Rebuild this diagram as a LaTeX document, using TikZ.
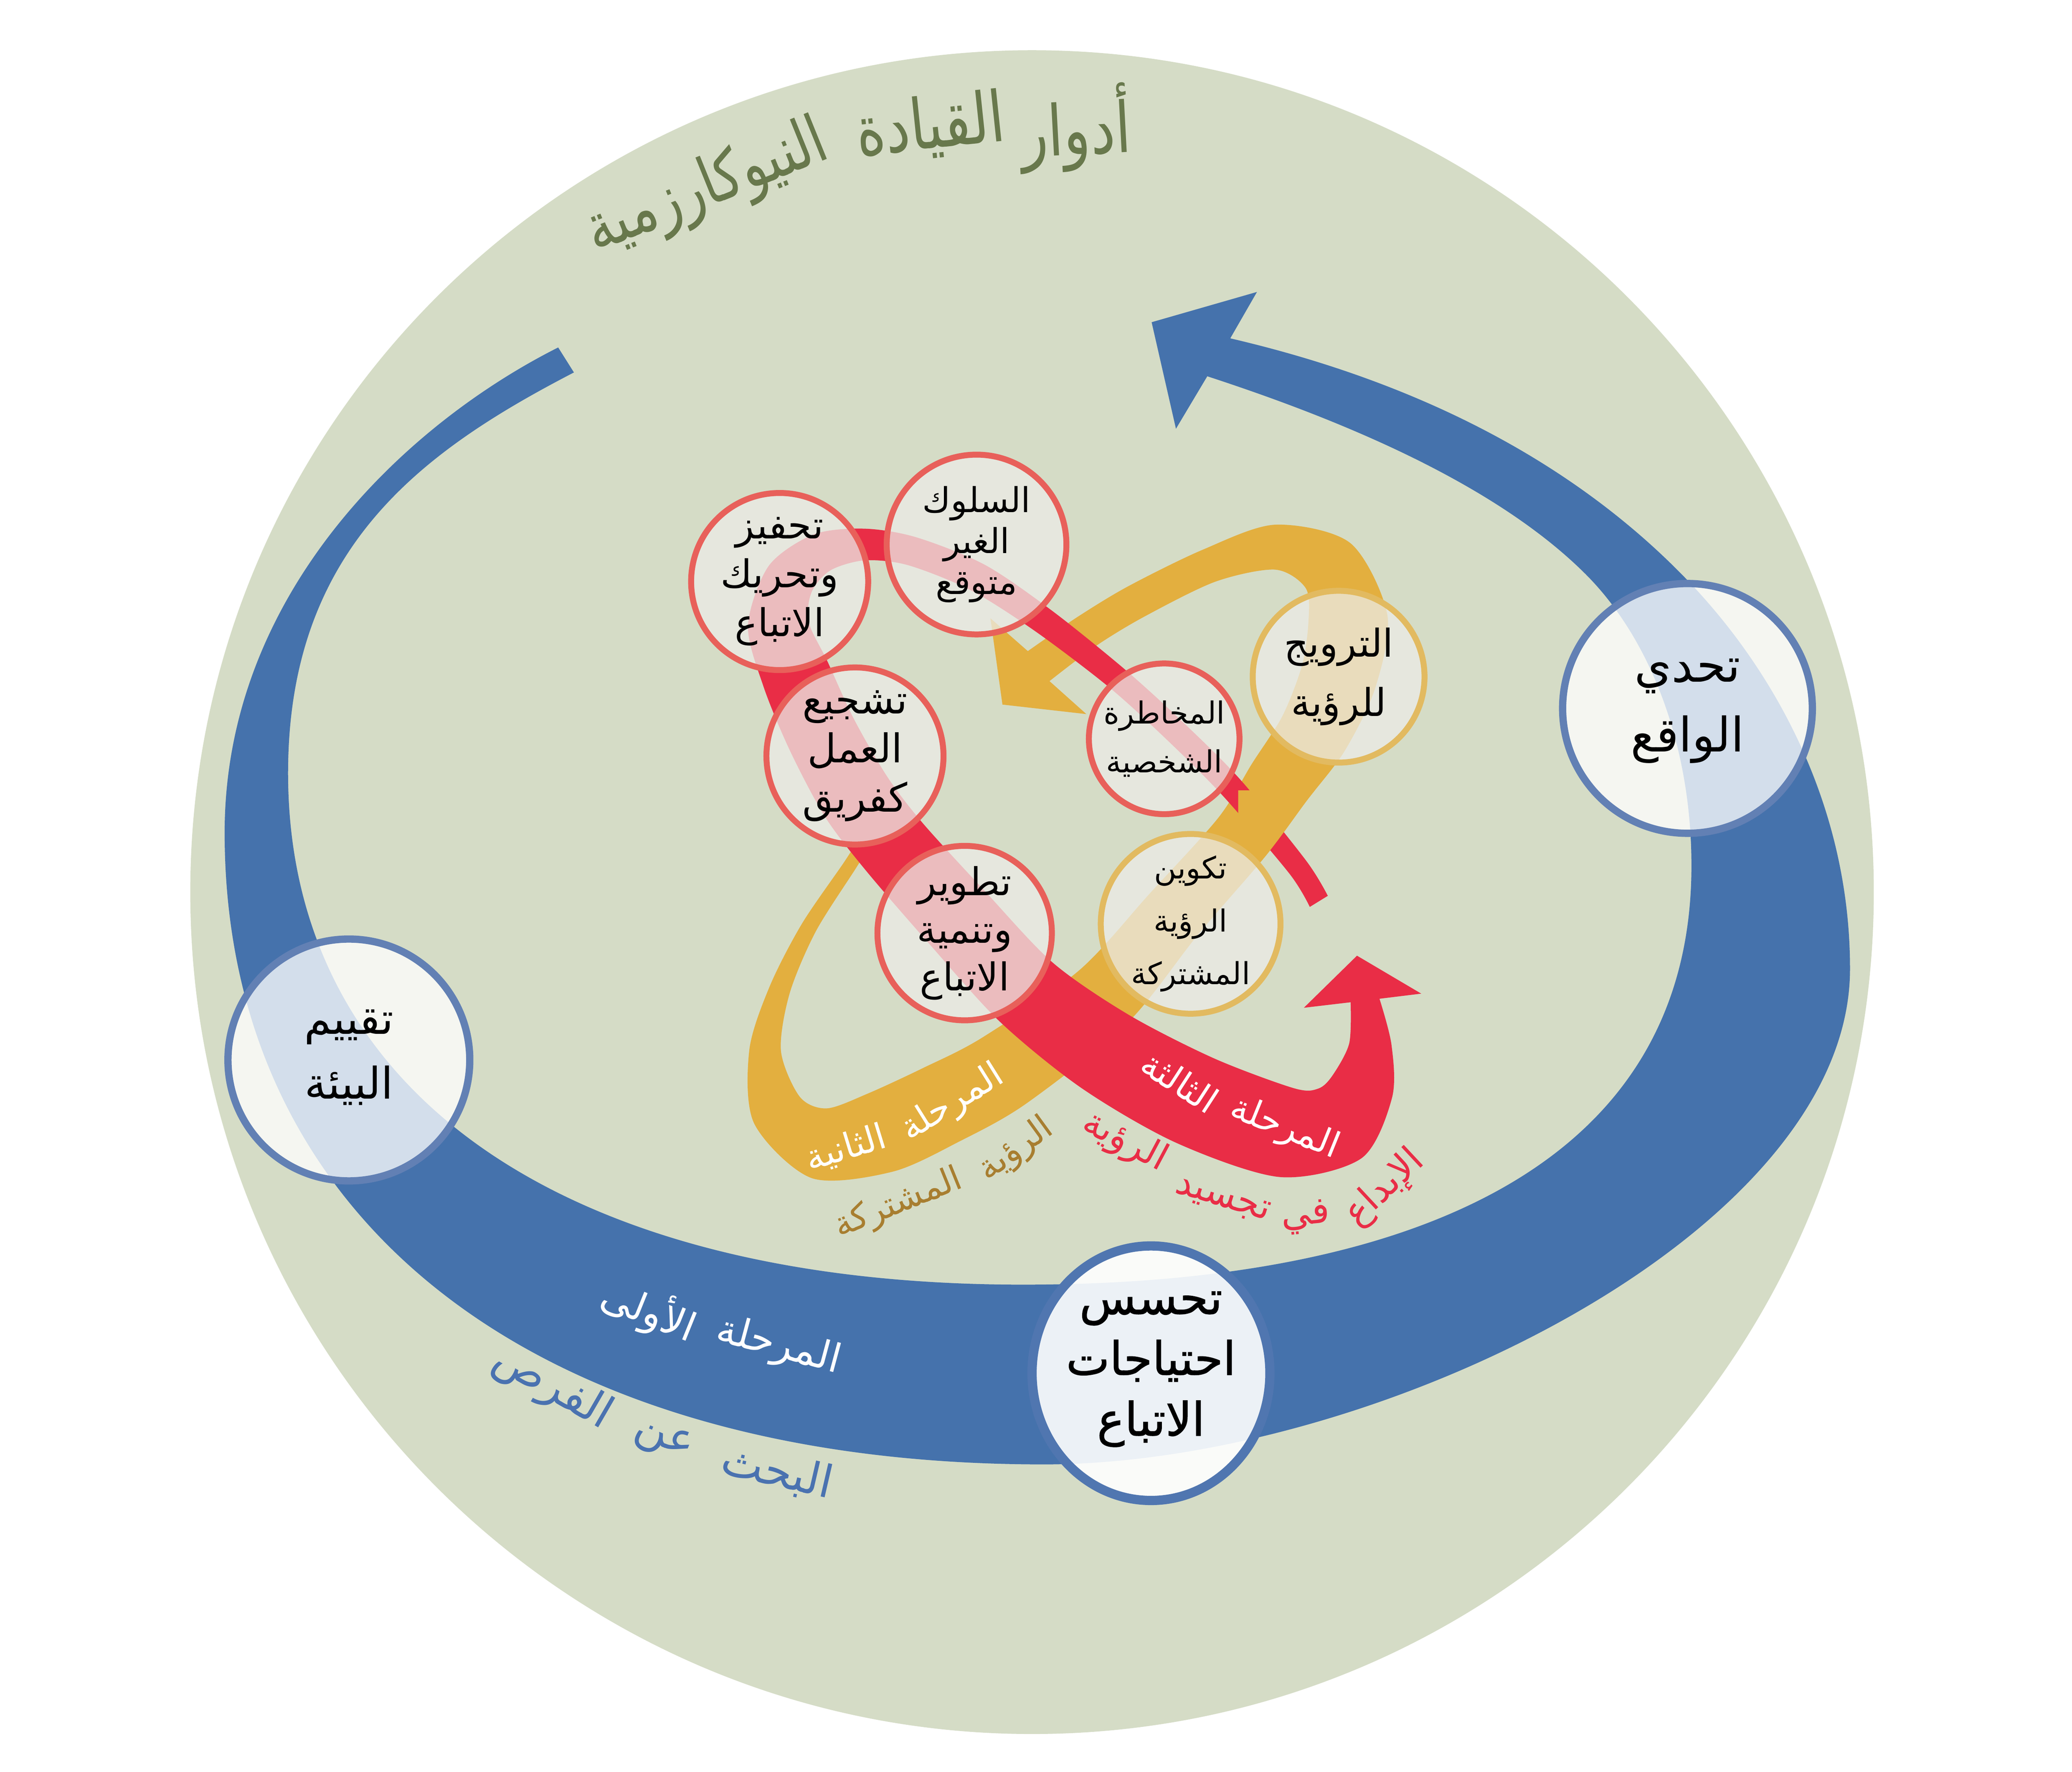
\documentclass[tikz,border=0pt]{standalone}
\usepackage{fontspec}
\usetikzlibrary{calc}
\TeXXeTstate=1
\newfontfamily\arfont[Script=Arabic]{DejaVu Sans}
\newfontfamily\arfontb[Script=Arabic,FakeBold=1.3]{DejaVu Sans}
\newfontfamily\arfontc[Script=Arabic,FakeStretch=0.8]{DejaVu Sans}
\newcommand\ar[1]{\beginR #1\endR}
\definecolor{bg}{RGB}{213,220,198}
\definecolor{bandblue}{RGB}{69,114,172}
\definecolor{bandred}{RGB}{233,45,70}
\definecolor{bandgold}{RGB}{227,175,63}
\definecolor{titlegreen}{RGB}{104,120,76}
\definecolor{labgold}{RGB}{168,126,48}
\definecolor{labblue}{RGB}{74,114,176}
\definecolor{cbblue}{RGB}{98,128,180}
\definecolor{cbblue2}{RGB}{80,118,176}
\definecolor{cbred}{RGB}{232,96,90}
\definecolor{cbgold}{RGB}{226,186,96}
\definecolor{cfill}{RGB}{236,236,231}
\newcommand\bpt[5]{%
  \coordinate (tmpT) at ($(#3)+(#4)-(#2)$);
  \coordinate (#1l) at ($(#3)!#5pt!90:(tmpT)$);
  \coordinate (#1r) at ($(#3)!#5pt!-90:(tmpT)$);
}
\tikzset{
  circB/.style={circle, draw=cbblue, line width=5.5pt, fill=white, fill opacity=0.77, inner sep=0pt},
  circR/.style={circle, draw=cbred, line width=4.5pt, fill=cfill, fill opacity=0.75, inner sep=0pt},
  circG/.style={circle, draw=cbgold, line width=4.5pt, fill=cfill, fill opacity=0.75, inner sep=0pt},
  ctext/.style={align=center, text=black, inner sep=0pt},
  lab/.style={inner sep=0pt},
  ttl/.style={inner sep=0pt, text=titlegreen, font=\arfontc\fontsize{53}{60}\selectfont}
}
\begin{document}
\begin{tikzpicture}[x=1pt,y=-1pt]
\useasboundingbox (0,0) rectangle (1568,1340.5);
\fill[bg] (781,675) circle[radius=637pt];

% ---------- title
\node[ttl, rotate=3] (t1) at (814,97) {\ar{أدوار}};
\node[ttl, rotate=6] (t2) at (704,96) {\ar{القيادة}};
\node[ttl, rotate=22, font=\arfontc\fontsize{50}{56}\selectfont] (t3) at (535,143) {\ar{النيوكارزمية}};

% ---------- blue band (phase 1)
\fill[bandblue] (422.4,262.9) .. controls (306,321.5) and (170,450) .. (170,630)
  .. controls (170,920) and (400,1108) .. (790,1108)
  .. controls (1040,1108) and (1400,933) .. (1400,733)
  .. controls (1400,613) and (1345.5,509.9) .. (1276,438)
  .. controls (1192.6,351.7) and (1077.1,290) .. (931,256)
  -- (951.2,220.9) -- (871.5,243.8) -- (889.9,324.4) -- (913.6,284.7)
  .. controls (1008.6,315.7) and (1129.3,363.8) .. (1200,434.5)
  .. controls (1249.5,484) and (1280,565) .. (1280,655)
  .. controls (1280,890) and (1054,972) .. (774,972)
  .. controls (424,972) and (218,825) .. (218,585)
  .. controls (218,415) and (318.9,341.6) .. (434.3,281.8) -- cycle;

% ---------- gold band centre line
\coordinate (G0) at (655,636);
\coordinate (G1) at (643,655);
\coordinate (G2) at (612,702);
\coordinate (G3) at (590,749);
\coordinate (G4) at (579,795);
\coordinate (G5) at (588,840);
\coordinate (G6) at (620,865);
\coordinate (G7) at (666,857);
\coordinate (G8) at (712,836);
\coordinate (G9) at (760,810);
\coordinate (G10) at (835,754);
\coordinate (G11) at (888,692);
\coordinate (G12) at (940,633);
\coordinate (G13) at (968,592);
\coordinate (G14) at (994,555);
\coordinate (G15) at (1013,512);
\coordinate (G16) at (1020,468);
\coordinate (G17) at (1005,428);
\coordinate (G18) at (965,414);
\coordinate (G19) at (915,428);
\coordinate (G20) at (860,455);
\coordinate (G21) at (822,478);
\coordinate (G22) at (786,504);
\bpt{G0}{G0}{G0}{G1}{5}
\bpt{G1}{G0}{G1}{G2}{5}
\bpt{G2}{G1}{G2}{G3}{6}
\bpt{G3}{G2}{G3}{G4}{8}
\bpt{G4}{G3}{G4}{G5}{12}
\bpt{G5}{G4}{G5}{G6}{20}
\bpt{G6}{G5}{G6}{G7}{27}
\bpt{G7}{G6}{G7}{G8}{31}
\bpt{G8}{G7}{G8}{G9}{31}
\bpt{G9}{G8}{G9}{G10}{30}
\bpt{G10}{G9}{G10}{G11}{27}
\bpt{G11}{G10}{G11}{G12}{24}
\bpt{G12}{G11}{G12}{G13}{23}
\bpt{G13}{G12}{G13}{G14}{25}
\bpt{G14}{G13}{G14}{G15}{27}
\bpt{G15}{G14}{G15}{G16}{29}
\bpt{G16}{G15}{G16}{G17}{30}
\bpt{G17}{G16}{G17}{G18}{24}
\bpt{G18}{G17}{G18}{G19}{17}
\bpt{G19}{G18}{G19}{G20}{13}
\bpt{G20}{G19}{G20}{G21}{13}
\bpt{G21}{G20}{G21}{G22}{13}
\bpt{G22}{G21}{G22}{G22}{14}
\newcommand\goldshape{%
\fill[bandgold] plot[smooth] coordinates {(G0l) (G1l) (G2l) (G3l) (G4l) (G5l) (G6l) (G7l) (G8l) (G9l) (G10l) (G11l) (G12l) (G13l) (G14l) (G15l) (G16l) (G17l) (G18l) (G19l) (G20l) (G21l) (G22l)}
  -- (822.1,540.3) -- (758.6,533.1) -- (749.5,467.8) --
  plot[smooth] coordinates {(G22r) (G21r) (G20r) (G19r) (G18r) (G17r) (G16r) (G15r) (G14r) (G13r) (G12r) (G11r) (G10r) (G9r) (G8r) (G7r) (G6r) (G5r) (G4r) (G3r) (G2r) (G1r) (G0r)} -- cycle;}
\goldshape

% ---------- red band centre line
\coordinate (R0) at (998,682);
\coordinate (R1) at (982,656);
\coordinate (R2) at (932,596);
\coordinate (R3) at (888,552);
\coordinate (R4) at (845,513);
\coordinate (R5) at (790,470);
\coordinate (R6) at (740,437);
\coordinate (R7) at (690,417);
\coordinate (R8) at (654,412);
\coordinate (R9) at (622,418);
\coordinate (R10) at (598,438);
\coordinate (R11) at (589,472);
\coordinate (R12) at (602,510);
\coordinate (R13) at (622,556);
\coordinate (R14) at (648,603);
\coordinate (R15) at (677,641);
\coordinate (R16) at (725,695);
\coordinate (R17) at (777,751);
\coordinate (R18) at (837,796);
\coordinate (R19) at (905,833);
\coordinate (R20) at (974,857);
\coordinate (R21) at (1014,850);
\coordinate (R22) at (1031,822);
\coordinate (R23) at (1037,790);
\coordinate (R24) at (1033,757);
\bpt{R0}{R0}{R0}{R1}{8}
\bpt{R1}{R0}{R1}{R2}{8}
\bpt{R2}{R1}{R2}{R3}{9}
\bpt{R3}{R2}{R3}{R4}{9}
\bpt{R4}{R3}{R4}{R5}{9}
\bpt{R5}{R4}{R5}{R6}{10}
\bpt{R6}{R5}{R6}{R7}{11}
\bpt{R7}{R6}{R7}{R8}{11}
\bpt{R8}{R7}{R8}{R9}{12}
\bpt{R9}{R8}{R9}{R10}{15}
\bpt{R10}{R9}{R10}{R11}{19}
\bpt{R11}{R10}{R11}{R12}{23}
\bpt{R12}{R11}{R12}{R13}{26}
\bpt{R13}{R12}{R13}{R14}{27}
\bpt{R14}{R13}{R14}{R15}{28}
\bpt{R15}{R14}{R15}{R16}{28}
\bpt{R16}{R15}{R16}{R17}{29}
\bpt{R17}{R16}{R17}{R18}{30}
\bpt{R18}{R17}{R18}{R19}{33}
\bpt{R19}{R18}{R19}{R20}{35}
\bpt{R20}{R19}{R20}{R21}{34}
\bpt{R21}{R20}{R21}{R22}{31}
\bpt{R22}{R21}{R22}{R23}{24}
\bpt{R23}{R22}{R23}{R24}{16}
\bpt{R24}{R23}{R24}{R24}{11}
\fill[bandred] plot[smooth] coordinates {(R0l) (R1l) (R2l) (R3l) (R4l) (R5l) (R6l) (R7l) (R8l) (R9l) (R10l) (R11l) (R12l) (R13l) (R14l) (R15l) (R16l) (R17l) (R18l) (R19l) (R20l) (R21l) (R22l) (R23l) (R24l)}
  -- (986.7,762.5) -- (1026.9,723.1) -- (1075.5,751.8) --
  plot[smooth] coordinates {(R24r) (R23r) (R22r) (R21r) (R20r) (R19r) (R18r) (R17r) (R16r) (R15r) (R14r) (R13r) (R12r) (R11r) (R10r) (R9r) (R8r) (R7r) (R6r) (R5r) (R4r) (R3r) (R2r) (R1r) (R0r)} -- cycle;

% gold passes over the thin start of the red band
\begin{scope}
\clip (937,598) rectangle (1013,673);
\goldshape
\end{scope}

% ---------- circles: phase 1 (blue)
\node[circB, minimum size=189pt] (cTahadi) at (1277,536) {};
\node[circB, minimum size=183pt] (cTaqyim) at (264,802) {};
\node[circle, draw=cbblue2, line width=7pt, fill=white, fill opacity=0.9, inner sep=0pt, minimum size=180pt, yscale=1.07] (cTahasus) at (871,1039) {};
% ---------- circles: phase 3 (red)
\node[circR, minimum size=134pt] (cTahfiz) at (590,440) {};
\node[circR, minimum size=136pt] (cSuluk) at (739,412) {};
\node[circR, minimum size=134pt] (cTashji) at (647,572) {};
\node[circR, minimum size=114pt] (cMukhatara) at (881,559) {};
\node[circR, minimum size=132pt] (cTatwir) at (730,706) {};
% ---------- circles: phase 2 (gold)
\node[circG, minimum size=130pt] (cTarwij) at (1013,512) {};
\node[circG, minimum size=136pt] (cTakwin) at (901,699) {};

% ---------- circle texts
\node[ctext, font=\arfont\fontsize{36}{53}\selectfont] (tTahadi) at (1277,538) {\ar{تحدي}\\\ar{الواقع}};
\node[ctext, font=\arfont\fontsize{33}{49}\selectfont] (tTaqyim) at (264,800) {\ar{تقييم}\\\ar{البيئة}};
\node[ctext, font=\arfontb\fontsize{35}{46}\selectfont] (tTahasus) at (871,1036) {\ar{تحسس}\\\ar{احتياجات}\\\ar{الاتباع}};
\node[ctext, font=\arfont\fontsize{29}{37}\selectfont] (tTahfiz) at (cTahfiz) {\ar{تحفيز}\\\ar{وتحريك}\\\ar{الاتباع}};
\node[ctext, font=\arfont\fontsize{26}{31}\selectfont] (tSuluk) at (cSuluk) {\ar{السلوك}\\\ar{الغير}\\\ar{متوقع}};
\node[ctext, font=\arfont\fontsize{30}{37}\selectfont] (tTashji) at (cTashji) {\ar{تشجيع}\\\ar{العمل}\\\ar{كفريق}};
\node[ctext, font=\arfont\fontsize{23}{37}\selectfont] (tMukhatara) at (cMukhatara) {\ar{المخاطرة}\\\ar{الشخصية}};
\node[ctext, font=\arfont\fontsize{29}{36}\selectfont] (tTatwir) at (cTatwir) {\ar{تطوير}\\\ar{وتنمية}\\\ar{الاتباع}};
\node[ctext, font=\arfont\fontsize{29}{45}\selectfont] (tTarwij) at (cTarwij) {\ar{الترويج}\\\ar{للرؤية}};
\node[ctext, font=\arfont\fontsize{23}{40}\selectfont] (tTakwin) at (cTakwin) {\ar{تكوين}\\\ar{الرؤية}\\\ar{المشتركة}};

% ---------- phase labels
\node[lab, text=white, font=\arfont\fontsize{30}{34}\selectfont, rotate=-15] (p1a) at (589,1019) {\ar{المرحلة}};
\node[lab, text=white, font=\arfont\fontsize{30}{34}\selectfont, rotate=-22] (p1b) at (491,992) {\ar{الأولى}};
\node[lab, text=labblue, font=\arfont\fontsize{34}{38}\selectfont, rotate=-13] (s1a) at (588,1114) {\ar{البحث}};
\node[lab, text=labblue, font=\arfont\fontsize{34}{38}\selectfont, rotate=-22] (s1b) at (502,1090) {\ar{عن}};
\node[lab, text=labblue, font=\arfont\fontsize{34}{38}\selectfont, rotate=-30] (s1c) at (418,1050) {\ar{الفرص}};

\node[lab, text=white, font=\arfont\fontsize{27}{30}\selectfont, rotate=32] (p2a) at (721,835) {\ar{المرحلة}};
\node[lab, text=white, font=\arfont\fontsize{27}{30}\selectfont, rotate=17] (p2b) at (640,869) {\ar{الثانية}};
\node[lab, text=labgold, font=\arfont\fontsize{26}{30}\selectfont, rotate=36] (s2a) at (769,870) {\ar{الرؤية}};
\node[lab, text=labgold, font=\arfont\fontsize{26}{30}\selectfont, rotate=22] (s2b) at (680,911) {\ar{المشتركة}};

\node[lab, text=white, font=\arfont\fontsize{27}{30}\selectfont, rotate=-22] (p3a) at (972,854) {\ar{المرحلة}};
\node[lab, text=white, font=\arfont\fontsize{27}{30}\selectfont, rotate=-33] (p3b) at (893,818) {\ar{الثالثة}};
\node[lab, text=bandred, font=\arfont\fontsize{28}{32}\selectfont, rotate=43] (s3a) at (1048,899) {\ar{الإبداع}};
\node[lab, text=bandred, font=\arfont\fontsize{28}{32}\selectfont, rotate=5] (s3b) at (988,921) {\ar{في}};
\node[lab, text=bandred, font=\arfont\fontsize{28}{32}\selectfont, rotate=-17] (s3c) at (925,908) {\ar{تجسيد}};
\node[lab, text=bandred, font=\arfont\fontsize{28}{32}\selectfont, rotate=-28] (s3d) at (851,864) {\ar{الرؤية}};
\end{tikzpicture}
\end{document}
